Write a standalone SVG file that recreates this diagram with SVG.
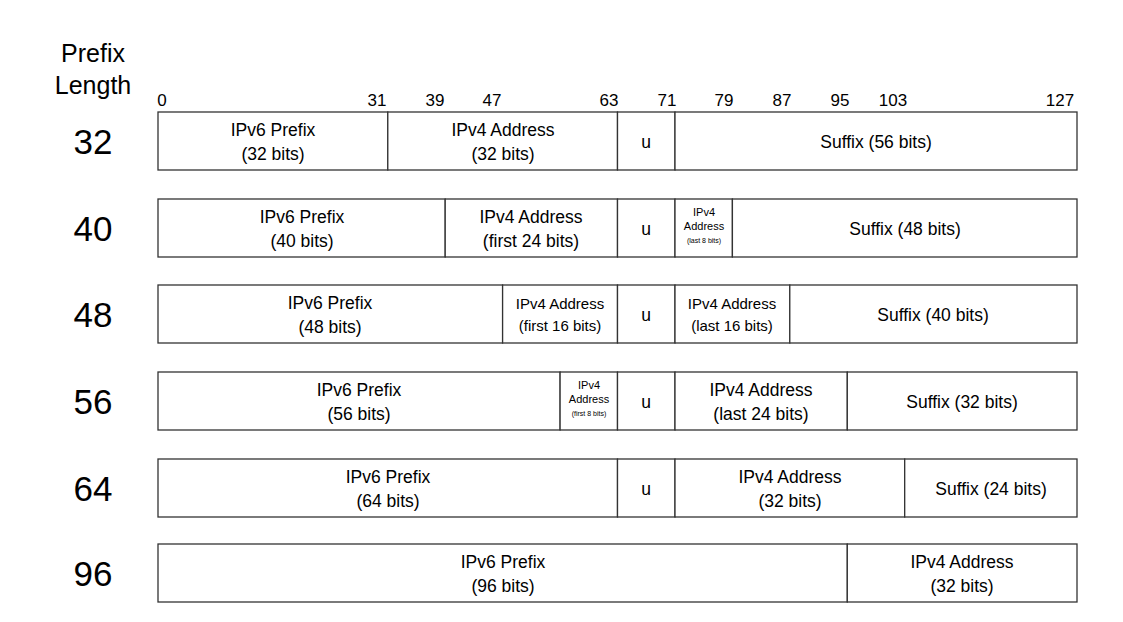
<svg xmlns="http://www.w3.org/2000/svg" width="1123" height="622" viewBox="0 0 1123 622">
<style>
text{font-family:"Liberation Sans",Arial,sans-serif;fill:#000;text-anchor:middle}
rect.c{fill:#fff;stroke:#333;stroke-width:1.3}
.t{font-size:17.5px}
.b{font-size:17px}
.m{font-size:15px}
.s{font-size:11px}
.xs{font-size:7px}
.n{font-size:35px}
.h{font-size:25px}
</style>
<rect width="1123" height="622" fill="#fff"/>
<g id="header">
<text class="h" x="93" y="62">Prefix</text>
<text class="h" x="93" y="94">Length</text>
</g>
<g id="bits">
<text class="b" x="162" y="106">0</text>
<text class="b" x="377" y="106">31</text>
<text class="b" x="435" y="106">39</text>
<text class="b" x="492" y="106">47</text>
<text class="b" x="609" y="106">63</text>
<text class="b" x="667" y="106">71</text>
<text class="b" x="724" y="106">79</text>
<text class="b" x="782" y="106">87</text>
<text class="b" x="840" y="106">95</text>
<text class="b" x="893" y="106">103</text>
<text class="b" x="1060" y="106">127</text>
</g>
<g id="row32">
<text class="n" x="93" y="154">32</text>
<rect class="c" x="158" y="112" width="229.8" height="58"/>
<rect class="c" x="387.8" y="112" width="229.7" height="58"/>
<rect class="c" x="617.5" y="112" width="57.5" height="58"/>
<rect class="c" x="675" y="112" width="402" height="58"/>
<text class="t" x="273" y="136">IPv6 Prefix</text><text class="t" x="273" y="160">(32 bits)</text>
<text class="t" x="503" y="136">IPv4 Address</text><text class="t" x="503" y="160">(32 bits)</text>
<text class="t" x="646" y="148">u</text>
<text class="t" x="876" y="148">Suffix (56 bits)</text>
</g>
<g id="row40">
<text class="n" x="93" y="241">40</text>
<rect class="c" x="158" y="199" width="287.2" height="58"/>
<rect class="c" x="445.2" y="199" width="172.3" height="58"/>
<rect class="c" x="617.5" y="199" width="57.5" height="58"/>
<rect class="c" x="675" y="199" width="57.4" height="58"/>
<rect class="c" x="732.4" y="199" width="344.6" height="58"/>
<text class="t" x="302" y="223">IPv6 Prefix</text><text class="t" x="302" y="247">(40 bits)</text>
<text class="t" x="531" y="223">IPv4 Address</text><text class="t" x="531" y="247">(first 24 bits)</text>
<text class="t" x="646" y="235">u</text>
<text class="s" x="704" y="216">IPv4</text><text class="s" x="704" y="230">Address</text><text class="xs" x="704" y="243">(last 8 bits)</text>
<text class="t" x="905" y="235">Suffix (48 bits)</text>
</g>
<g id="row48">
<text class="n" x="93" y="327">48</text>
<rect class="c" x="158" y="285" width="344.6" height="58"/>
<rect class="c" x="502.6" y="285" width="114.9" height="58"/>
<rect class="c" x="617.5" y="285" width="57.5" height="58"/>
<rect class="c" x="675" y="285" width="114.8" height="58"/>
<rect class="c" x="789.8" y="285" width="287.2" height="58"/>
<text class="t" x="330" y="309">IPv6 Prefix</text><text class="t" x="330" y="333">(48 bits)</text>
<text class="m" x="560" y="309">IPv4 Address</text><text class="m" x="560" y="331">(first 16 bits)</text>
<text class="t" x="646" y="321">u</text>
<text class="m" x="732" y="309">IPv4 Address</text><text class="m" x="732" y="331">(last 16 bits)</text>
<text class="t" x="933" y="321">Suffix (40 bits)</text>
</g>
<g id="row56">
<text class="n" x="93" y="414">56</text>
<rect class="c" x="158" y="372" width="402.1" height="58"/>
<rect class="c" x="560.1" y="372" width="57.4" height="58"/>
<rect class="c" x="617.5" y="372" width="57.5" height="58"/>
<rect class="c" x="675" y="372" width="172.3" height="58"/>
<rect class="c" x="847.3" y="372" width="229.7" height="58"/>
<text class="t" x="359" y="396">IPv6 Prefix</text><text class="t" x="359" y="420">(56 bits)</text>
<text class="s" x="589" y="389">IPv4</text><text class="s" x="589" y="403">Address</text><text class="xs" x="589" y="416">(first 8 bits)</text>
<text class="t" x="646" y="408">u</text>
<text class="t" x="761" y="396">IPv4 Address</text><text class="t" x="761" y="420">(last 24 bits)</text>
<text class="t" x="962" y="408">Suffix (32 bits)</text>
</g>
<g id="row64">
<text class="n" x="93" y="501">64</text>
<rect class="c" x="158" y="459" width="459.5" height="58"/>
<rect class="c" x="617.5" y="459" width="57.5" height="58"/>
<rect class="c" x="675" y="459" width="229.7" height="58"/>
<rect class="c" x="904.7" y="459" width="172.3" height="58"/>
<text class="t" x="388" y="483">IPv6 Prefix</text><text class="t" x="388" y="507">(64 bits)</text>
<text class="t" x="646" y="495">u</text>
<text class="t" x="790" y="483">IPv4 Address</text><text class="t" x="790" y="507">(32 bits)</text>
<text class="t" x="991" y="495">Suffix (24 bits)</text>
</g>
<g id="row96">
<text class="n" x="93" y="586">96</text>
<rect class="c" x="158" y="544" width="689.3" height="58"/>
<rect class="c" x="847.3" y="544" width="229.7" height="58"/>
<text class="t" x="503" y="568">IPv6 Prefix</text><text class="t" x="503" y="592">(96 bits)</text>
<text class="t" x="962" y="568">IPv4 Address</text><text class="t" x="962" y="592">(32 bits)</text>
</g>
<g id="connectors"/>
</svg>
